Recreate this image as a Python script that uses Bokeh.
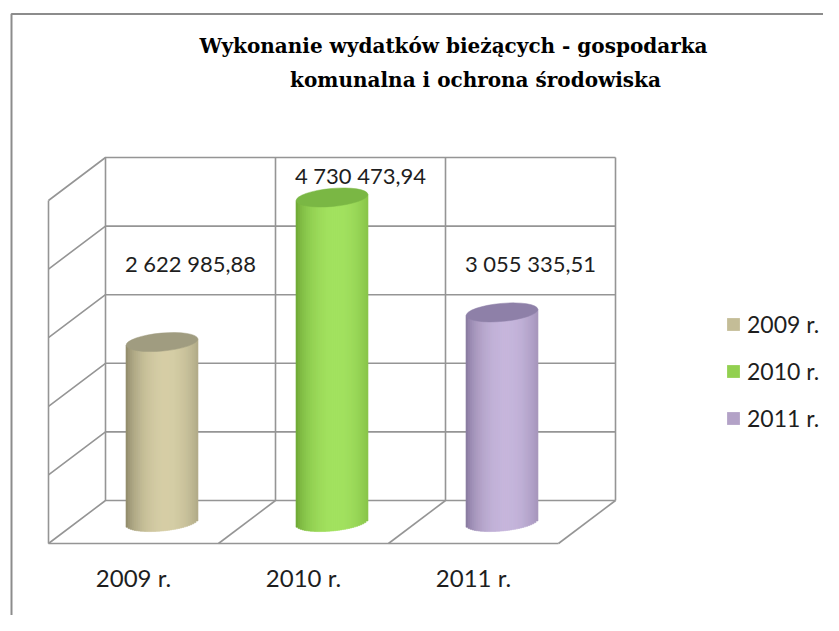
import numpy as np
from bokeh.plotting import figure
from bokeh.models import ColumnDataSource, Range1d, Legend, LegendItem, Label
from bokeh.embed import file_html
from bokeh.resources import INLINE
from bokeh.core.properties import value

# ---------------- data ----------------
categories = ["2009 r.", "2010 r.", "2011 r."]
values = [2622985.88, 4730473.94, 3055335.51]
value_labels = ["2 622 985,88", "4 730 473,94", "3 055 335,51"]
legend_colors = ["#c4bd97", "#92d050", "#b3a2c7"]
body_light = ["#d6cea6", "#a3e260", "#c6b6dc"]
body_dark = ["#858062", "#67a02f", "#7f7096"]
top_colors = ["#a09c80", "#7ab744", "#8e80a8"]
y_ticks = [0, 1_000_000, 2_000_000, 3_000_000, 4_000_000, 5_000_000]
title_lines = ["Wykonanie wydatków bieżących - gospodarka",
               "komunalna i ochrona środowiska"]

# ---------------- layout (pixels) ----------------
W, H = 823, 615
PAGE_OFF = 0
BACK_LEFT = 105.0      # x of back wall left edge
CAT_PX = 170.0         # px per category on the back wall
FLOOR_Y = 500.0        # y of value 0 on the back wall
PX_PER_UNIT = 68.6 / 1_000_000
DEPTH_DX, DEPTH_DY = -57.0, 43.0
CYL_W, CYL_H, CYL_ANGLE = 72.0, 18.0, 0.09
LABEL_MIN = 3_450_000
GRID = "#959595"


def X(px):
    return (px - BACK_LEFT) / CAT_PX


def Y(py):
    return (FLOOR_Y - py) / PX_PER_UNIT


dxd = DEPTH_DX / CAT_PX
dyd = -DEPTH_DY / PX_PER_UNIT
ncat = len(categories)
ymax = y_ticks[-1]

p = figure(width=W, height=H, output_backend="svg", toolbar_location=None,
           x_range=Range1d(X(PAGE_OFF), X(PAGE_OFF + W)),
           y_range=Range1d(Y(PAGE_OFF + H), Y(PAGE_OFF)),
           x_axis_location=None, y_axis_location=None,
           min_border=0, outline_line_color=None)
p.grid.visible = False
p.background_fill_color = "white"

# chart border (extends beyond right / bottom)
p.line(x=[X(11), X(11), X(900)], y=[Y(700), Y(13.5), Y(13.5)],
       line_color="#8c8c8c", line_width=2)

# ---------------- walls ----------------
xs, ys = [], []
for t in y_ticks:
    xs.append([dxd, 0, ncat]); ys.append([t + dyd, t, t])
for i in range(ncat + 1):
    xs.append([i, i]); ys.append([0, ymax])
xs.append([dxd, dxd]); ys.append([dyd, ymax + dyd])
for i in range(1, ncat + 1):
    xs.append([i, i + dxd]); ys.append([0, dyd])
xs.append([dxd, ncat + dxd]); ys.append([dyd, dyd])
p.multi_line(xs=xs, ys=ys, line_color=GRID, line_width=1.6)


def mix(c1, c2, s):
    a = np.array([int(c1[k:k + 2], 16) for k in (1, 3, 5)], float)
    b = np.array([int(c2[k:k + 2], 16) for k in (1, 3, 5)], float)
    c = a + (b - a) * s
    return "#%02x%02x%02x" % tuple(int(round(v)) for v in c)


# ---------------- cylinders ----------------
N = 36
hw = CYL_W / 2 / CAT_PX
tilt = np.tan(CYL_ANGLE) * CYL_W / 2
legend_items = []
for i, (v, lab) in enumerate(zip(values, categories)):
    cx = i + 0.5 + dxd / 2
    base = dyd / 2
    top = v + dyd / 2
    t0 = np.linspace(-1, 1, N + 1)[:-1]
    t1 = t0 + 2.0 / N
    tm = (t0 + t1) / 2
    left = cx + t0 * hw
    right = cx + t1 * hw
    bot = base + (tm * tilt - (CYL_H / 2) * np.sqrt(1 - tm ** 2)) / PX_PER_UNIT
    tp = top + (tm * tilt) / PX_PER_UNIT
    prof = np.clip(np.cos((tm - 0.12) / 1.12 * np.pi / 2), 0, 1) ** 0.55
    cols = [mix(body_dark[i], body_light[i], s) for s in prof]
    src = ColumnDataSource(dict(left=left, right=right, bottom=bot, top=tp, c=cols))
    p.quad(left="left", right="right", bottom="bottom", top="top", source=src,
           fill_color="c", line_color="c", line_width=0.6)
    p.ellipse(x=[cx], y=[top], width=CYL_W, height=CYL_H, angle=CYL_ANGLE,
              width_units="screen", height_units="screen",
              fill_color=top_colors[i], line_color=top_colors[i], line_width=0.5)
    # legend swatch renderer (kept outside the visible range)
    sw = p.quad(left=[X(-200)], right=[X(-190)], bottom=[0], top=[1],
                fill_color=legend_colors[i], line_color=None)
    legend_items.append(LegendItem(label=lab, renderers=[sw]))

# ---------------- value labels ----------------
p.text(x=[i + 0.5 for i in range(ncat)], y=[max(v, LABEL_MIN) for v in values],
       text=value_labels, text_font=value("Lato"), text_font_size="22px",
       text_align="center", text_baseline="middle", text_color="#1e1e1e")

# ---------------- category labels ----------------
p.text(x=[i + 0.5 + dxd for i in range(ncat)], y=[dyd] * ncat, y_offset=34,
       text=categories, text_font=value("Lato"), text_font_size="24px",
       text_align="center", text_baseline="middle", text_color="#1e1e1e")

# ---------------- title ----------------
for k, (line, cxp, cyp) in enumerate(zip(title_lines, [453, 475], [45, 79])):
    p.add_layout(Label(x=cxp - PAGE_OFF, y=H - (cyp - PAGE_OFF), x_units="screen",
                       y_units="screen", text=line, text_font="DejaVu Serif",
                       text_font_style="bold", text_font_size="20px",
                       text_align="center", text_baseline="middle",
                       text_color="#000000"))

# ---------------- legend ----------------
legend = Legend(items=legend_items, location=(725 - PAGE_OFF, H - 432),
                glyph_width=16, glyph_height=16, label_text_font="Lato",
                label_text_font_size="23px", label_text_color="#1e1e1e",
                spacing=19, padding=0, margin=0, label_standoff=6,
                border_line_color=None, background_fill_alpha=0)
p.add_layout(legend)

open("out.html", "w").write(file_html(p, INLINE))
